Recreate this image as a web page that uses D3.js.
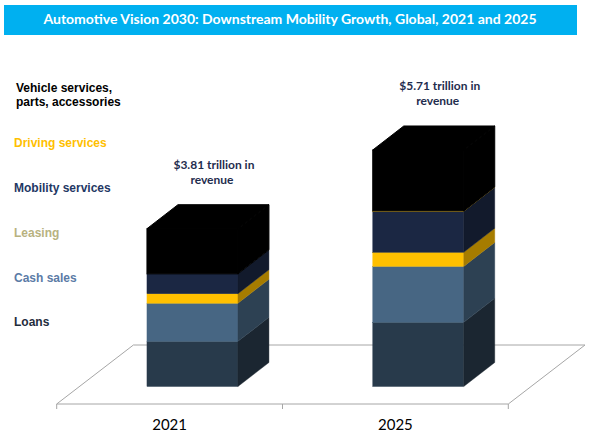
<!DOCTYPE html>
<html>
<head>
<meta charset="utf-8">
<script src="https://cdn.jsdelivr.net/npm/d3@7"></script>
<style>
    body { margin: 0; background: #fff; }
    svg { display: block; }
</style>
</head>
<body>
<div id="chart"></div>
<script>
// data (trillion USD)
var years = ["2021", "2025"];
var series = ["Loans", "Cash sales", "Leasing", "Mobility services", "Driving services", "Vehicle services"];
var loans = [1.09, 1.55];
var cashSales = [0.92, 1.35];
var leasing = [0.23, 0.34];
var mobility = [0.48, 0.99];
var driving = [0.00, 0.01];
var vehicle = [1.09, 1.47];
var totals = ["$3.81 trillion in", "$5.71 trillion in"];
var legendLabels = [["Vehicle services,", "parts, accessories"], ["Driving services"], ["Mobility services"], ["Leasing"], ["Cash sales"], ["Loans"]];

var svgW = 589;
var svgH = 440;

var frontFill = ["#283a4b", "#476683", "#ffc000", "#1b2743", "#ffc000", "#000000"];
var sideFill = ["#1b2631", "#2d4153", "#a67c00", "#121a2c", "#a67c00", "#000000"];
var legendColor = ["#000000", "#ffc000", "#1f3864", "#b8b27f", "#5b7ba6", "#1f2d3d"];

var svg = d3.select("#chart")
    .append("svg")
    .attr("width", svgW)
    .attr("height", svgH);

// title band
svg.append("rect")
    .attr("x", 4)
    .attr("y", 5)
    .attr("width", 573)
    .attr("height", 30)
    .attr("fill", "#00b0f0");

svg.append("text")
    .attr("x", 290)
    .attr("y", 24)
    .attr("text-anchor", "middle")
    .attr("fill", "#fff")
    .attr("font-family", "Lato, sans-serif")
    .attr("font-weight", "bold")
    .attr("font-size", 14)
    .text("Automotive Vision 2030: Downstream Mobility Growth, Global, 2021 and 2025");

// floor geometry
var floorY = 404;
var floorDX = 76.7, floorDY = -59;
var barDX = 31, barDY = -24;
var offX = (floorDX - barDX) / 2, offY = (floorDY - barDY) / 2;

var xScale = d3.scaleBand()
    .domain(years)
    .range([56.7, 508.3]);

var barW = xScale.bandwidth() * 0.403;

var yScale = d3.scaleLinear()
    .domain([0, 6])
    .range([floorY + offY, floorY + offY - 6 * 41.42]);

var floorL = xScale.range()[0], floorR = xScale.range()[1];

svg.append("polygon")
    .attr("points", [[floorL, floorY], [floorR, floorY], [floorR + floorDX, floorY + floorDY], [floorL + floorDX, floorY + floorDY]].join(" "))
    .attr("fill", "none")
    .attr("stroke", "#a6a6a6")
    .attr("stroke-width", 1);

var bAxis = d3.axisBottom(xScale).tickSize(5).tickFormat("");
var xAxis = svg.append("g")
    .attr("transform", `translate(0, ${floorY})`)
    .call(bAxis);
xAxis.select(".domain").remove();
xAxis.selectAll(".tick line").remove();
// ticks on the band edges
var edges = years.map(function(y) { return xScale(y); }).concat([floorR]);
xAxis.selectAll(".edge")
    .data(edges)
    .enter()
    .append("line")
    .attr("x1", function(d) { return d; })
    .attr("x2", function(d) { return d; })
    .attr("y1", 0)
    .attr("y2", 5)
    .attr("stroke", "#a6a6a6");

xAxis.selectAll(".yr")
    .data(years)
    .enter()
    .append("text")
    .attr("x", function(d) { return xScale(d) + xScale.bandwidth() / 2; })
    .attr("y", 26)
    .attr("text-anchor", "middle")
    .attr("fill", "#000")
    .attr("font-family", "Lato, sans-serif")
    .attr("font-size", 15)
    .text(function(d) { return d; });

// stacked 3d bars
var rows = years.map(function(y, i) {
    return { year: y, Loans: loans[i], "Cash sales": cashSales[i], Leasing: leasing[i],
        "Mobility services": mobility[i], "Driving services": driving[i], "Vehicle services": vehicle[i] };
});
var stacked = d3.stack().keys(series)(rows);

var barsG = svg.append("g");

stacked.forEach(function(layer, k) {
    layer.forEach(function(seg) {
        if (seg[1] - seg[0] <= 0) return;
        var x0 = xScale(seg.data.year) + (xScale.bandwidth() - barW) / 2 + offX;
        var x1 = x0 + barW;
        var yb = yScale(seg[0]), yt = yScale(seg[1]);
        var sw = k == series.length - 1 ? 1 : 0.4;
        barsG.append("rect")
            .attr("x", x0)
            .attr("y", yt)
            .attr("width", barW)
            .attr("height", yb - yt)
            .attr("fill", frontFill[k])
            .attr("stroke", frontFill[k])
            .attr("stroke-width", sw);
        barsG.append("polygon")
            .attr("points", [[x1, yb], [x1 + barDX, yb + barDY], [x1 + barDX, yt + barDY], [x1, yt]].join(" "))
            .attr("fill", sideFill[k])
            .attr("stroke", sideFill[k])
            .attr("stroke-width", sw);
    });
});

// top faces
var topLayer = stacked[stacked.length - 1];
topLayer.forEach(function(seg, i) {
    var x0 = xScale(seg.data.year) + (xScale.bandwidth() - barW) / 2 + offX;
    var x1 = x0 + barW;
    var yt = yScale(seg[1]);
    barsG.append("polygon")
        .attr("points", [[x0, yt], [x1, yt], [x1 + barDX, yt + barDY], [x0 + barDX, yt + barDY]].join(" "))
        .attr("fill", "#000")
        .attr("stroke", "#000")
        .attr("stroke-width", 1);

    var g = svg.append("text")
        .attr("text-anchor", "middle")
        .attr("fill", "#1f2d4e")
        .attr("font-family", "Lato, sans-serif")
        .attr("font-weight", "bold")
        .attr("font-size", 12);
    var cx = x0 + barW / 2 + barDX / 2 + 6;
    g.append("tspan")
        .attr("x", cx)
        .attr("y", yt + barDY - 36)
        .text(totals[i]);
    g.append("tspan")
        .attr("x", cx - 2)
        .attr("y", yt + barDY - 21)
        .text("revenue");
});

// legend labels on the left
var legendY = [91.7, 147.3, 192.3, 237.3, 282.3, 325.7];
legendLabels.forEach(function(lines, i) {
    var t = svg.append("text")
        .attr("fill", legendColor[i])
        .attr("font-family", "Liberation Sans, Arial, sans-serif")
        .attr("font-weight", "bold")
        .attr("font-size", 12);
    lines.forEach(function(line, j) {
        t.append("tspan")
            .attr("x", i == 0 ? 16 : 14)
            .attr("y", legendY[i] + j * 14.5)
            .text(line);
    });
});
</script>
</body>
</html>
